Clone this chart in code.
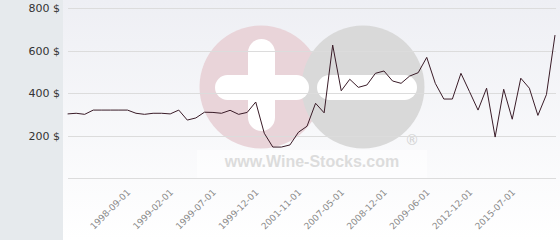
<!DOCTYPE html>
<html>
<head>
<meta charset="utf-8">
<script src="https://cdn.jsdelivr.net/npm/d3@7"></script>
<style>
  body { margin: 0; background: #fff; }
  svg { display: block; font-family: "DejaVu Sans", sans-serif; }
</style>
</head>
<body>
<div id="chart"></div>
<script>
// price per point
var prices = [
  303, 306, 301, 321, 321, 321, 321, 321, 306, 301,
  306, 306, 303, 321, 274, 284, 311, 310, 306, 320,
  301, 310, 359, 212, 147, 147, 157, 217, 245, 353,
  308, 627, 412, 466, 428, 439, 494, 505, 458, 447,
  481, 497, 569, 447, 373, 373, 494, 408, 321, 424,
  194, 419, 278, 471, 424, 296, 394, 674
];

// labelled categories (point index -> date)
var tickIndex = [7, 12, 17, 22, 27, 32, 37, 42, 47, 52];
var tickLabels = [
  "1998-09-01", "1999-02-01", "1999-07-01", "1999-12-01", "2001-11-01",
  "2007-05-01", "2008-12-01", "2009-06-01", "2012-12-01", "2015-07-01"
];

var yTicks = [200, 400, 600, 800];

var svgWidth = 560;
var svgHeight = 240;

var plot = { left: 63, right: 556, top: 8.3, bottom: 178.3 };

var svg = d3
  .select("#chart")
  .append("svg")
  .attr("width", svgWidth)
  .attr("height", svgHeight);

var defs = svg.append("defs");
var grad = defs
  .append("linearGradient")
  .attr("id", "bg")
  .attr("x1", 0).attr("y1", 0).attr("x2", 0).attr("y2", 1);
grad.append("stop").attr("offset", "0%").attr("stop-color", "#eeeff4");
grad.append("stop").attr("offset", "100%").attr("stop-color", "#ffffff");

// backgrounds
svg.append("rect")
  .attr("x", 0).attr("y", 0)
  .attr("width", svgWidth).attr("height", svgHeight)
  .attr("fill", "url(#bg)");

svg.append("rect")
  .attr("x", 0).attr("y", 0)
  .attr("width", plot.left).attr("height", svgHeight)
  .attr("fill", "#e6eaed");

// scales
var x = d3
  .scalePoint()
  .domain(d3.range(prices.length))
  .range([67.6, 555]);

var y = d3
  .scaleLinear()
  .domain([0, 800])
  .range([plot.bottom, plot.top]);

// watermark logo
var logo = svg.append("g");
logo.append("rect")
  .attr("x", 197).attr("y", 150)
  .attr("width", 230).attr("height", 28)
  .attr("fill", "#ffffff").attr("opacity", 0.5);
logo.append("circle")
  .attr("cx", 261).attr("cy", 87).attr("r", 61.5)
  .attr("fill", "#e9d4d9");
logo.append("circle")
  .attr("cx", 363).attr("cy", 87).attr("r", 61.5)
  .attr("fill", "#d9d9d9");
logo.append("rect")
  .attr("x", 248).attr("y", 39)
  .attr("width", 27).attr("height", 92)
  .attr("rx", 13.5)
  .attr("fill", "#ffffff");
logo.append("rect")
  .attr("x", 215).attr("y", 75)
  .attr("width", 94).attr("height", 25)
  .attr("rx", 12.5)
  .attr("fill", "#ffffff");
logo.append("rect")
  .attr("x", 317).attr("y", 75)
  .attr("width", 100).attr("height", 25)
  .attr("rx", 12.5)
  .attr("fill", "#ffffff");
logo.append("text")
  .attr("x", 412).attr("y", 145)
  .attr("text-anchor", "middle")
  .attr("font-size", "14px")
  .attr("fill", "#d2d2d2")
  .text("®");
logo.append("text")
  .attr("x", 312).attr("y", 167)
  .attr("text-anchor", "middle")
  .attr("font-family", "'Liberation Sans', Arial, sans-serif")
  .attr("font-weight", "bold")
  .attr("font-size", "16px")
  .attr("fill", "#dcdcdc")
  .text("www.Wine-Stocks.com");

// grid lines
svg.append("g")
  .selectAll("line")
  .data([0].concat(yTicks))
  .enter()
  .append("line")
  .attr("x1", 68)
  .attr("x2", plot.right)
  .attr("y1", (d) => Math.round(y(d)) + 0.5)
  .attr("y2", (d) => Math.round(y(d)) + 0.5)
  .attr("stroke", "#dcdcdc")
  .attr("stroke-width", 1);

// y labels
svg.append("g")
  .selectAll("text")
  .data(yTicks)
  .enter()
  .append("text")
  .attr("x", 60)
  .attr("y", (d) => y(d))
  .attr("dy", "0.35em")
  .attr("text-anchor", "end")
  .attr("font-size", "11px")
  .attr("fill", "#333")
  .text((d) => d + " $");

// x labels
svg.append("g")
  .selectAll("text")
  .data(tickIndex)
  .enter()
  .append("text")
  .attr("transform", (d) => `translate(${x(d) + 3.5}, 193) rotate(-45)`)
  .attr("text-anchor", "end")
  .attr("font-size", "9px")
  .attr("fill", "#8a8a8a")
  .text((d, i) => tickLabels[i]);

// price line
var line = d3
  .line()
  .x((d, i) => x(i))
  .y((d) => y(d));

svg.append("path")
  .datum(prices)
  .attr("d", line)
  .attr("fill", "none")
  .attr("stroke", "#3a1c28")
  .attr("stroke-width", 1)
  .attr("stroke-linejoin", "round");
</script>
</body>
</html>
